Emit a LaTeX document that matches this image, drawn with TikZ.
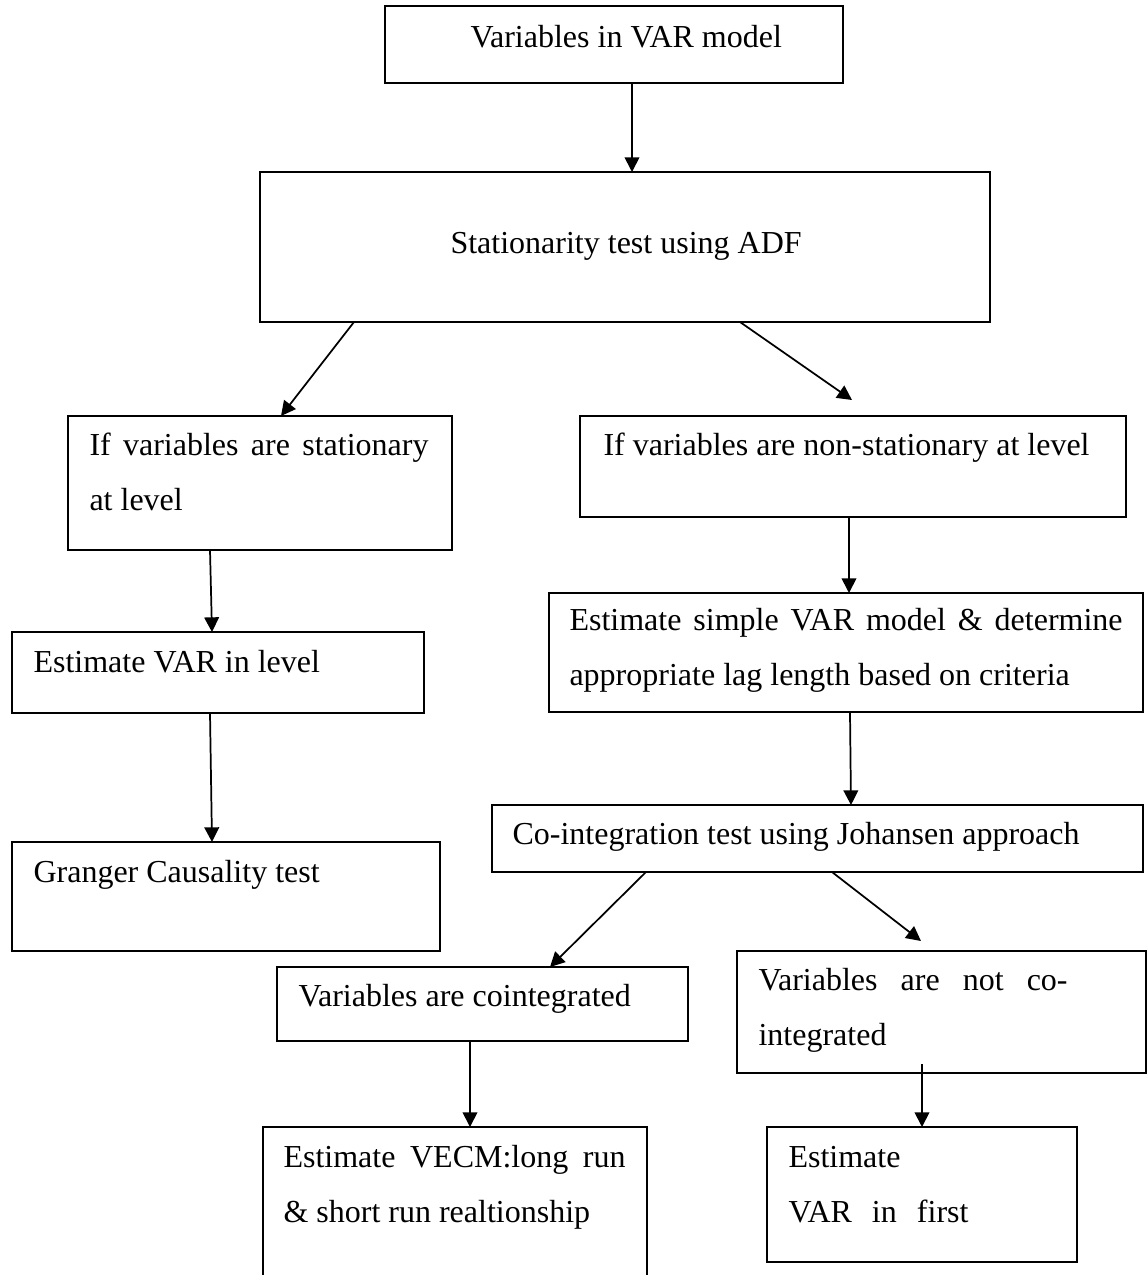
\documentclass[tikz,border=0pt]{standalone}
\usepackage{fontspec}
\setmainfont{Liberation Serif}
\usetikzlibrary{arrows.meta,calc,fit}
\tikzset{
  stepbox/.style={draw,line width=0.75pt,inner sep=0pt,outer sep=0pt},
  boxtext/.style={anchor=base west,inner sep=0pt,align=left,font=\fontsize{12}{20.5}\selectfont},
  flow/.style={-{Triangle[length=5.5pt,width=5.5pt]},line width=0.65pt}
}
\begin{document}
\begin{tikzpicture}[x=0.375pt,y=-0.375pt,line join=miter]
\useasboundingbox (0,0) rectangle (1147,1275);
\clip (0,0) rectangle (1147,1275);
\fill[white] (0,0) rectangle (1147,1275);

% boxes
\node[stepbox,fit={(385,6) (843,83)}] (vars) {};
\node[stepbox,fit={(260,172) (990,322)}] (adf) {};
\node[stepbox,fit={(68,416) (452,550)}] (stat) {};
\node[stepbox,fit={(580,416) (1126,517)}] (nonstat) {};
\node[stepbox,fit={(12,632) (424,713)}] (varlevel) {};
\node[stepbox,fit={(549,593) (1143,712)}] (lag) {};
\node[stepbox,fit={(12,842) (440,951)}] (granger) {};
\node[stepbox,fit={(492,805) (1143,872)}] (johansen) {};
\node[stepbox,fit={(277,967) (688,1041)}] (coint) {};
\node[stepbox,fit={(737,951) (1146,1073)}] (notcoint) {};
\node[stepbox,fit={(263,1127) (647,1300)}] (vecm) {};
\node[stepbox,fit={(767,1127) (1077,1262)}] (varfirst) {};

% texts (two-line nodes sit on the baseline of their last line)
\node[boxtext] (varsT) at (470,47) {Variables in VAR model};
\node[boxtext] (adfT) at (450,253) {Stationarity test using ADF};
\node[boxtext] (statT) at (89,510) {\makebox[127.1pt][s]{If variables are stationary}\\at level};
\node[boxtext] (nonstatT) at (603,455) {If variables are non-stationary at level};
\node[boxtext] (varlevelT) at (33,672) {Estimate VAR in level};
\node[boxtext] (lagT) at (569,685) {\makebox[207.4pt][s]{Estimate simple VAR model \& determine}\\appropriate lag length based on criteria};
\node[boxtext] (grangerT) at (33,882) {Granger Causality test};
\node[boxtext] (johansenT) at (512,844) {Co-integration test using Johansen approach};
\node[boxtext] (cointT) at (298,1006) {Variables are cointegrated};
\node[boxtext] (notcointT) at (758,1045) {\makebox[115.9pt][s]{Variables are not co-}\\integrated};
\node[boxtext] (vecmT) at (283,1222) {\makebox[128.25pt][s]{Estimate VECM:long run}\\\& short run realtionship};
\node[boxtext] (varfirstT) at (788,1222) {Estimate\\\makebox[67.5pt][s]{VAR in first}};

% arrows
\draw[flow] ($(vars.south west)+(247,0)$) -- ($(adf.north west)+(372,0)$);
\draw[flow] ($(adf.south west)+(94,0)$) -- ($(stat.north west)+(213,0)$);
\draw[flow] ($(adf.south west)+(480,0)$) -- ($(nonstat.north west)+(272,-16)$);
\draw[flow] ($(stat.south west)+(142,0)$) -- ($(varlevel.north west)+(200,0)$);
\draw[flow] ($(varlevel.south west)+(198,0)$) -- ($(granger.north west)+(200,0)$);
\draw[flow] ($(nonstat.south west)+(269,0)$) -- ($(lag.north west)+(300,0)$);
\draw[flow] ($(lag.south west)+(301,0)$) -- ($(johansen.north west)+(359,0)$);
\draw[flow] ($(johansen.south west)+(154,0)$) -- ($(coint.north west)+(273,0)$);
\draw[flow] ($(johansen.south west)+(340,0)$) -- ($(notcoint.north west)+(184,-10)$);
\draw[flow] ($(coint.south west)+(193,0)$) -- ($(vecm.north west)+(207,0)$);
\draw[flow] ($(notcoint.south west)+(185,-9)$) -- ($(varfirst.north west)+(155,0)$);
\end{tikzpicture}
\end{document}
